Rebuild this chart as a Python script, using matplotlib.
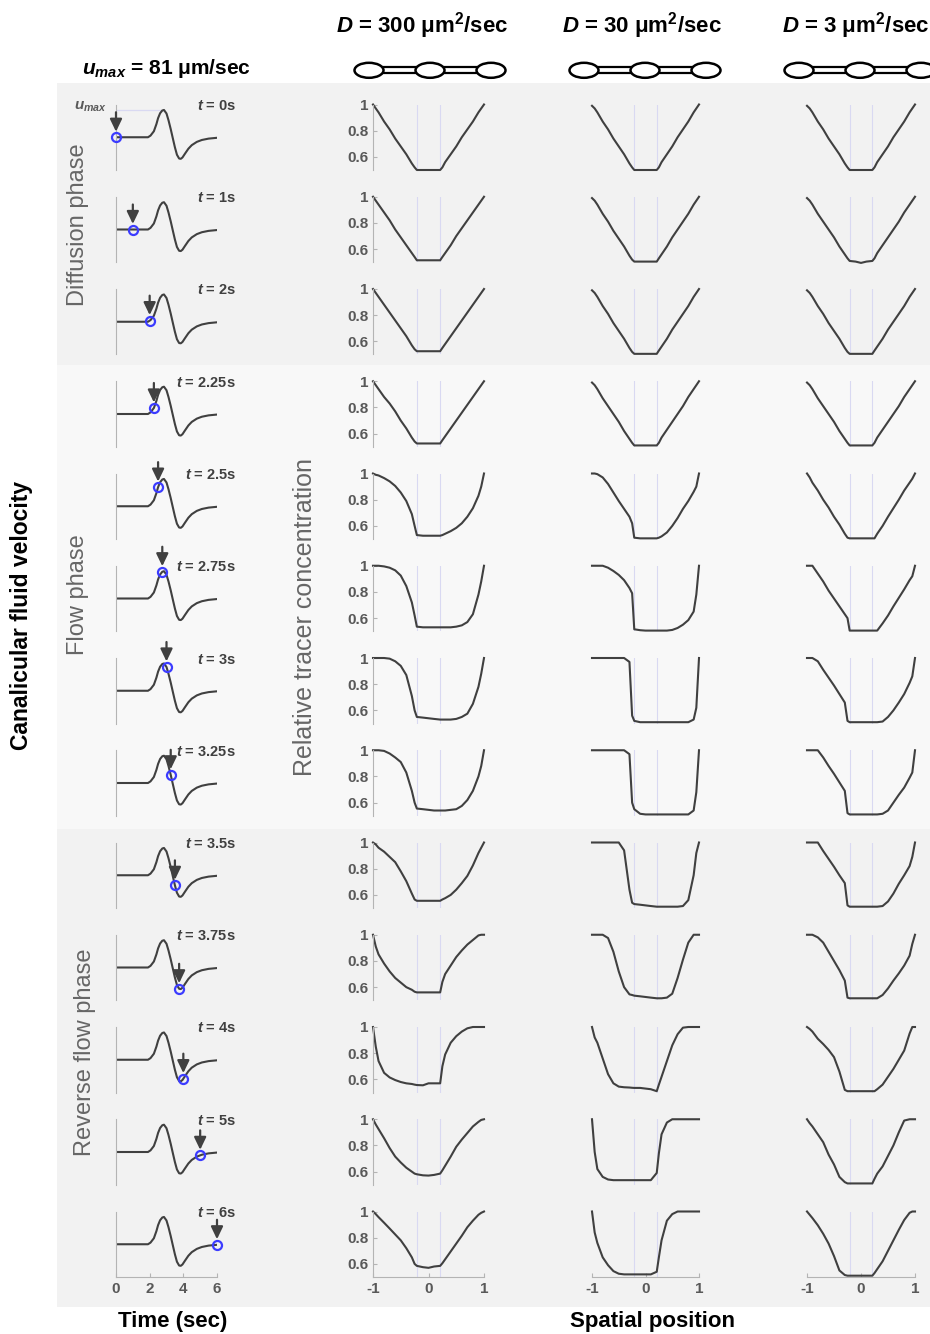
import numpy as np
import matplotlib
matplotlib.use('Agg')
import matplotlib.pyplot as plt
from matplotlib.patches import Ellipse, Rectangle

plt.rcParams['font.family'] = ['Liberation Sans', 'DejaVu Sans']
plt.rcParams['mathtext.fontset'] = 'custom'
plt.rcParams['mathtext.rm'] = 'Liberation Sans'
plt.rcParams['mathtext.it'] = 'Liberation Sans:italic'
plt.rcParams['mathtext.bf'] = 'Liberation Sans:bold'
plt.rcParams['mathtext.bfit'] = 'Liberation Sans:italic:bold'

# canalicular fluid velocity waveform (in units of u_max)
time_s = [0.0, 1.0, 1.9, 2.05, 2.25, 2.4, 2.5, 2.62, 2.75, 2.85, 3.0, 3.12, 3.25, 3.38,
          3.5, 3.62, 3.75, 3.85, 3.95, 4.1, 4.3, 4.5, 4.8, 5.1, 5.5, 6.0]
velocity = [0, 0, 0, 0.06, 0.22, 0.48, 0.7, 0.88, 0.98, 1.0, 0.87, 0.62, 0.3, -0.05,
            -0.37, -0.64, -0.78, -0.79, -0.74, -0.6, -0.42, -0.29, -0.17, -0.1, -0.05, -0.02]

snapshot_times = [0, 1, 2, 2.25, 2.5, 2.75, 3, 3.25, 3.5, 3.75, 4, 5, 6]
diff_coefs = ['300', '30', '3']

# spatial position along the canaliculus
x_pos = [-1.0, -0.95, -0.9, -0.8, -0.7, -0.6, -0.5, -0.4, -0.3, -0.25, -0.21, -0.1, 0.0,
         0.1, 0.21, 0.25, 0.3, 0.4, 0.5, 0.6, 0.7, 0.8, 0.9, 0.95, 1.0]

# relative tracer concentration, one row per snapshot time
conc_D300 = [
    [1.0, 0.97, 0.94, 0.87, 0.81, 0.74, 0.68, 0.62, 0.55, 0.52, 0.50, 0.50, 0.50, 0.50, 0.50, 0.52, 0.56, 0.62, 0.68, 0.75, 0.81, 0.87, 0.94, 0.97, 1.0],
    [1.0, 0.97, 0.94, 0.88, 0.82, 0.75, 0.69, 0.63, 0.57, 0.54, 0.515, 0.515, 0.515, 0.515, 0.515, 0.54, 0.57, 0.63, 0.70, 0.76, 0.82, 0.88, 0.94, 0.97, 1.0],
    [1.0, 0.97, 0.94, 0.88, 0.82, 0.76, 0.70, 0.64, 0.57, 0.54, 0.525, 0.525, 0.525, 0.525, 0.525, 0.55, 0.58, 0.64, 0.70, 0.76, 0.82, 0.88, 0.94, 0.97, 1.0],
    [1.0, 0.97, 0.94, 0.88, 0.83, 0.77, 0.70, 0.64, 0.57, 0.54, 0.525, 0.525, 0.525, 0.525, 0.525, 0.55, 0.58, 0.64, 0.70, 0.76, 0.82, 0.88, 0.94, 0.97, 1.0],
    [1.0, 0.99, 0.985, 0.965, 0.94, 0.905, 0.855, 0.79, 0.69, 0.6, 0.53, 0.525, 0.525, 0.525, 0.525, 0.53, 0.54, 0.56, 0.585, 0.62, 0.67, 0.735, 0.83, 0.9, 1.0],
    [1.0, 1.0, 1.0, 0.995, 0.985, 0.965, 0.925, 0.845, 0.72, 0.62, 0.535, 0.53, 0.53, 0.53, 0.53, 0.53, 0.53, 0.53, 0.535, 0.545, 0.57, 0.63, 0.78, 0.88, 1.0],
    [1.0, 1.0, 1.0, 1.0, 0.995, 0.975, 0.94, 0.87, 0.71, 0.6, 0.55, 0.545, 0.54, 0.535, 0.53, 0.53, 0.53, 0.53, 0.535, 0.55, 0.575, 0.65, 0.78, 0.88, 1.0],
    [1.0, 1.0, 1.0, 0.995, 0.975, 0.945, 0.91, 0.83, 0.69, 0.6, 0.555, 0.55, 0.545, 0.54, 0.54, 0.54, 0.54, 0.545, 0.55, 0.575, 0.62, 0.69, 0.8, 0.88, 1.0],
    [1.0, 0.985, 0.96, 0.93, 0.89, 0.85, 0.78, 0.705, 0.61, 0.565, 0.555, 0.555, 0.555, 0.555, 0.555, 0.565, 0.575, 0.6, 0.64, 0.69, 0.745, 0.825, 0.92, 0.96, 1.0],
    [1.0, 0.91, 0.85, 0.78, 0.72, 0.67, 0.635, 0.6, 0.58, 0.565, 0.56, 0.56, 0.56, 0.56, 0.56, 0.64, 0.70, 0.765, 0.83, 0.88, 0.925, 0.96, 0.995, 1.0, 1.0],
    [1.0, 0.85, 0.74, 0.65, 0.615, 0.595, 0.58, 0.57, 0.565, 0.56, 0.557, 0.555, 0.57, 0.57, 0.57, 0.7, 0.79, 0.88, 0.93, 0.965, 0.99, 1.0, 1.0, 1.0, 1.0],
    [1.0, 0.96, 0.925, 0.855, 0.78, 0.715, 0.67, 0.63, 0.6, 0.585, 0.58, 0.572, 0.57, 0.575, 0.585, 0.61, 0.645, 0.715, 0.79, 0.845, 0.895, 0.945, 0.98, 0.995, 1.0],
    [1.0, 0.98, 0.957, 0.914, 0.87, 0.825, 0.78, 0.72, 0.65, 0.6, 0.585, 0.575, 0.57, 0.58, 0.585, 0.605, 0.635, 0.695, 0.755, 0.815, 0.88, 0.93, 0.975, 0.99, 1.0],
]
conc_D30 = [
    [0.99, 0.97, 0.94, 0.87, 0.81, 0.74, 0.68, 0.62, 0.55, 0.52, 0.50, 0.50, 0.50, 0.50, 0.50, 0.52, 0.56, 0.62, 0.68, 0.75, 0.81, 0.87, 0.94, 0.97, 1.0],
    [0.99, 0.97, 0.94, 0.87, 0.81, 0.74, 0.68, 0.62, 0.55, 0.52, 0.505, 0.505, 0.505, 0.505, 0.505, 0.53, 0.56, 0.62, 0.69, 0.75, 0.81, 0.87, 0.94, 0.97, 1.0],
    [0.99, 0.97, 0.94, 0.87, 0.81, 0.74, 0.68, 0.62, 0.55, 0.52, 0.505, 0.505, 0.505, 0.505, 0.505, 0.53, 0.56, 0.62, 0.69, 0.75, 0.81, 0.87, 0.94, 0.97, 1.0],
    [0.99, 0.97, 0.94, 0.87, 0.81, 0.75, 0.69, 0.62, 0.56, 0.53, 0.51, 0.51, 0.51, 0.51, 0.51, 0.53, 0.57, 0.63, 0.69, 0.75, 0.81, 0.88, 0.94, 0.97, 1.0],
    [1.0, 1.0, 0.995, 0.97, 0.92, 0.855, 0.79, 0.73, 0.67, 0.62, 0.51, 0.505, 0.505, 0.505, 0.505, 0.51, 0.52, 0.55, 0.6, 0.66, 0.73, 0.79, 0.86, 0.9, 1.0],
    [1.0, 1.0, 1.0, 1.0, 0.985, 0.96, 0.93, 0.89, 0.83, 0.79, 0.515, 0.508, 0.505, 0.505, 0.505, 0.505, 0.505, 0.505, 0.51, 0.525, 0.55, 0.585, 0.65, 0.78, 1.0],
    [1.0, 1.0, 1.0, 1.0, 1.0, 1.0, 1.0, 1.0, 0.97, 0.56, 0.52, 0.51, 0.51, 0.51, 0.51, 0.51, 0.51, 0.51, 0.51, 0.51, 0.51, 0.51, 0.53, 0.62, 1.0],
    [1.0, 1.0, 1.0, 1.0, 1.0, 1.0, 1.0, 1.0, 0.97, 0.6, 0.55, 0.515, 0.51, 0.51, 0.51, 0.51, 0.51, 0.51, 0.51, 0.51, 0.51, 0.51, 0.54, 0.68, 1.0],
    [1.0, 1.0, 1.0, 1.0, 1.0, 1.0, 1.0, 0.94, 0.64, 0.54, 0.53, 0.525, 0.52, 0.515, 0.51, 0.51, 0.51, 0.51, 0.51, 0.51, 0.515, 0.56, 0.75, 0.92, 1.0],
    [1.0, 1.0, 1.0, 1.0, 0.975, 0.87, 0.72, 0.6, 0.545, 0.54, 0.535, 0.53, 0.525, 0.52, 0.515, 0.515, 0.515, 0.52, 0.55, 0.67, 0.81, 0.94, 1.0, 1.0, 1.0],
    [1.0, 0.92, 0.88, 0.76, 0.64, 0.57, 0.545, 0.54, 0.538, 0.536, 0.535, 0.535, 0.53, 0.525, 0.51, 0.56, 0.62, 0.74, 0.86, 0.945, 0.995, 1.0, 1.0, 1.0, 1.0],
    [1.0, 0.75, 0.62, 0.56, 0.54, 0.535, 0.535, 0.535, 0.535, 0.535, 0.535, 0.535, 0.535, 0.535, 0.59, 0.74, 0.885, 0.975, 1.0, 1.0, 1.0, 1.0, 1.0, 1.0, 1.0],
    [1.0, 0.84, 0.76, 0.65, 0.59, 0.545, 0.525, 0.52, 0.52, 0.52, 0.52, 0.52, 0.52, 0.52, 0.54, 0.65, 0.78, 0.93, 0.98, 1.0, 1.0, 1.0, 1.0, 1.0, 1.0],
]
conc_D3 = [
    [0.99, 0.97, 0.94, 0.87, 0.81, 0.74, 0.68, 0.62, 0.55, 0.52, 0.50, 0.50, 0.50, 0.50, 0.50, 0.52, 0.56, 0.62, 0.68, 0.75, 0.81, 0.87, 0.94, 0.97, 1.0],
    [0.99, 0.97, 0.94, 0.87, 0.81, 0.75, 0.69, 0.62, 0.56, 0.53, 0.51, 0.505, 0.495, 0.505, 0.51, 0.53, 0.57, 0.63, 0.69, 0.75, 0.81, 0.88, 0.94, 0.97, 1.0],
    [0.99, 0.97, 0.94, 0.87, 0.81, 0.74, 0.68, 0.62, 0.55, 0.52, 0.505, 0.505, 0.505, 0.505, 0.505, 0.53, 0.56, 0.62, 0.69, 0.75, 0.81, 0.87, 0.94, 0.97, 1.0],
    [0.99, 0.97, 0.94, 0.87, 0.81, 0.75, 0.69, 0.62, 0.56, 0.53, 0.51, 0.51, 0.51, 0.51, 0.51, 0.53, 0.57, 0.63, 0.69, 0.75, 0.81, 0.88, 0.94, 0.97, 1.0],
    [1.0, 0.97, 0.93, 0.87, 0.80, 0.74, 0.67, 0.61, 0.54, 0.51, 0.505, 0.505, 0.505, 0.505, 0.505, 0.505, 0.54, 0.60, 0.67, 0.735, 0.80, 0.87, 0.93, 0.96, 1.0],
    [1.0, 1.0, 1.0, 0.94, 0.88, 0.81, 0.75, 0.69, 0.63, 0.6, 0.505, 0.505, 0.505, 0.505, 0.505, 0.505, 0.505, 0.56, 0.62, 0.69, 0.755, 0.82, 0.89, 0.92, 1.0],
    [1.0, 1.0, 1.0, 0.975, 0.91, 0.85, 0.79, 0.725, 0.66, 0.52, 0.51, 0.51, 0.51, 0.51, 0.51, 0.51, 0.51, 0.515, 0.55, 0.6, 0.66, 0.725, 0.81, 0.86, 1.0],
    [1.0, 1.0, 1.0, 1.0, 0.945, 0.88, 0.82, 0.755, 0.69, 0.52, 0.51, 0.51, 0.51, 0.51, 0.51, 0.51, 0.51, 0.515, 0.54, 0.6, 0.66, 0.715, 0.79, 0.83, 1.0],
    [1.0, 1.0, 1.0, 1.0, 0.935, 0.875, 0.815, 0.75, 0.69, 0.52, 0.51, 0.51, 0.51, 0.51, 0.51, 0.51, 0.51, 0.515, 0.55, 0.61, 0.685, 0.75, 0.82, 0.89, 1.0],
    [1.0, 1.0, 1.0, 0.98, 0.94, 0.87, 0.8, 0.73, 0.65, 0.52, 0.515, 0.515, 0.515, 0.515, 0.515, 0.515, 0.515, 0.54, 0.59, 0.65, 0.705, 0.765, 0.84, 0.93, 1.0],
    [1.0, 0.985, 0.965, 0.91, 0.87, 0.825, 0.77, 0.66, 0.52, 0.51, 0.51, 0.51, 0.51, 0.51, 0.51, 0.51, 0.525, 0.56, 0.62, 0.68, 0.75, 0.82, 0.95, 1.0, 1.0],
    [1.0, 0.97, 0.945, 0.885, 0.825, 0.73, 0.655, 0.56, 0.52, 0.51, 0.51, 0.51, 0.51, 0.51, 0.51, 0.545, 0.585, 0.64, 0.72, 0.8, 0.9, 0.99, 1.0, 1.0, 1.0],
    [1.0, 0.975, 0.95, 0.895, 0.83, 0.755, 0.66, 0.55, 0.515, 0.51, 0.51, 0.51, 0.51, 0.51, 0.51, 0.53, 0.56, 0.62, 0.70, 0.78, 0.86, 0.935, 0.99, 1.0, 1.0],
]
concs = [conc_D300, conc_D30, conc_D3]

W, H = 930, 1334
line_c = '#404040'
tick_c = '#595959'
spine_c = '#b4b4b4'
guide_c = '#d9d9f2'
phase_c = '#666666'

fig = plt.figure(figsize=(W / 100, H / 100), dpi=100)


def panel(left, top, width, height):
    ax = fig.add_axes([left / W, 1 - (top + height) / H, width / W, height / H])
    ax.patch.set_alpha(0)
    for s in ax.spines.values():
        s.set_visible(False)
        s.set_color(spine_c)
    ax.set_xticks([])
    ax.set_yticks([])
    ax.tick_params(direction='in', length=3, color=spine_c, labelcolor=tick_c,
                   labelsize=11, pad=3.5)
    return ax


# background, phase bands and header drawing in pixel coordinates
bg = fig.add_axes([0, 0, 1, 1])
bg.set_xlim(0, W)
bg.set_ylim(H, 0)
bg.axis('off')
bg.add_patch(Rectangle((57, 83), W - 57, 282, color='#f2f2f2', lw=0))
bg.add_patch(Rectangle((57, 365), W - 57, 464, color='#f8f8f8', lw=0))
bg.add_patch(Rectangle((57, 829), W - 57, 478, color='#f2f2f2', lw=0))

title_x = [422, 642, 856]
icon_x = [430, 645, 860]
for D, tx, cx in zip(diff_coefs, title_x, icon_x):
    bg.text(tx, 26, r'$\mathbfit{D}$ = ' + D + r' μm$^{\mathbf{2}}$/sec', ha='center',
            va='center', fontsize=16, weight='bold')
    centers = [cx - 61, cx, cx + 61]
    for a, b in zip(centers[:-1], centers[1:]):
        for yy in (67.3, 73.3):
            bg.plot([a + 13, b - 13], [yy, yy], color='black', lw=1.6, solid_capstyle='butt')
    for c in centers:
        bg.add_patch(Ellipse((c, 70.3), 29, 15, facecolor='white', edgecolor='black', lw=1.8))

bg.text(82, 68, r'$\mathbfit{u}_{\mathbfit{max}}$ = 81 μm/sec', ha='left', va='center',
        fontsize=15, weight='bold')
bg.text(22, 615, 'Canalicular fluid velocity', rotation=90, ha='center', va='center',
        fontsize=16.5, weight='bold')
bg.text(78, 225, 'Diffusion phase', rotation=90, ha='center', va='center', fontsize=17,
        color=phase_c)
bg.text(78, 595, 'Flow phase', rotation=90, ha='center', va='center', fontsize=17,
        color=phase_c)
bg.text(85, 1052, 'Reverse flow phase', rotation=90, ha='center', va='center', fontsize=17,
        color=phase_c)
bg.text(305, 617, 'Relative tracer concentration', rotation=90, ha='center', va='center',
        fontsize=18, color=phase_c)
bg.text(173, 1321, 'Time (sec)', ha='center', va='center', fontsize=16, weight='bold')
bg.text(652, 1321, 'Spatial position', ha='center', va='center', fontsize=16, weight='bold')
bg.text(91, 107, r'$\mathbfit{u}_{\mathbfit{max}}$', ha='center', va='center', fontsize=11,
        color='#5a5a5a')

col_geom = [(373, 111), (592, 107), (807, 108)]
n_rows = len(snapshot_times)
i_peak = int(np.argmax(velocity))

for k, t_snap in enumerate(snapshot_times):
    top = 104.5 + 92.25 * k
    last = k == n_rows - 1

    # velocity panel with the current time marker
    axv = panel(116, top, 101, 65.5)
    axv.set_xlim(0, 6)
    axv.set_ylim(-1.2, 1.2)
    axv.spines['left'].set_visible(True)
    if k == 0:
        axv.plot([0, time_s[i_peak]], [velocity[i_peak]] * 2, color=guide_c, lw=0.9)
    axv.plot(time_s, velocity, color=line_c, lw=1.5)
    v_now = np.interp(t_snap, time_s, velocity)
    axv.plot([t_snap], [v_now], 'o', mfc='none', mec='#3c3cff', ms=6.5, mew=1.6,
             clip_on=False, zorder=5)
    axv.annotate('', xy=(t_snap, v_now), xytext=(0, 18), textcoords='offset points',
                 arrowprops=dict(arrowstyle='-|>,head_length=0.75,head_width=0.36',
                                 color=line_c, lw=1.6, shrinkA=0, shrinkB=4),
                 annotation_clip=False)
    bg.text(236, top + 1.5, r'$\mathbfit{t}$ = ' + f'{t_snap:g}s', ha='right', va='center',
            fontsize=10.5, weight='bold', color=line_c)
    if last:
        axv.spines['bottom'].set_visible(True)
        axv.set_xticks([0, 2, 4, 6])
        axv.set_xticklabels(['0', '2', '4', '6'], fontweight='bold')

    # tracer concentration profiles
    for j, (left, width) in enumerate(col_geom):
        ax = panel(left, top, width, 65.5)
        ax.set_xlim(-1, 1)
        ax.set_ylim(0.5, 1.0)
        ax.axvline(-0.21, color=guide_c, lw=0.8)
        ax.axvline(0.21, color=guide_c, lw=0.8)
        ax.plot(x_pos, concs[j][k], color=line_c, lw=1.5, clip_on=False)
        if j == 0:
            ax.spines['left'].set_visible(True)
            ax.set_yticks([0.6, 0.8, 1.0])
            ax.set_yticklabels(['0.6', '0.8', '1'], fontweight='bold')
        if last:
            ax.spines['bottom'].set_visible(True)
            ax.set_xticks([-1, 0, 1])
            ax.set_xticklabels(['-1', '0', '1'], fontweight='bold')

fig.savefig('out.png', dpi=100)
